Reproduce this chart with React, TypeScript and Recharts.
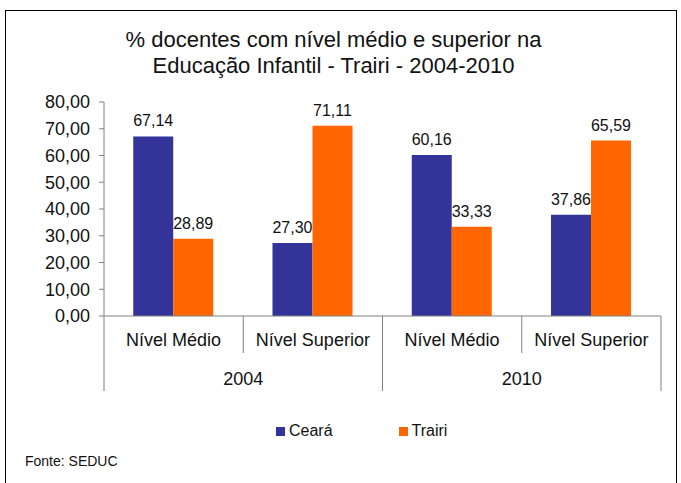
import { BarChart, Bar, XAxis, YAxis, LabelList } from "recharts";

const levels = ["Nível Médio", "Nível Superior", "Nível Médio", "Nível Superior"];
const years = ["2004", "2004", "2010", "2010"];
const ceara = [67.14, 27.3, 60.16, 37.86];
const trairi = [28.89, 71.11, 33.33, 65.59];
const yTicks = [0, 10, 20, 30, 40, 50, 60, 70, 80];

const series = [
    { key: "ceara", name: "Ceará", color: "#333399" },
    { key: "trairi", name: "Trairi", color: "#FF6600" },
];

const data = levels.map((level, i) => ({
    level,
    year: years[i],
    ceara: ceara[i],
    trairi: trairi[i],
}));

const fmt = (v: any) => Number(v).toFixed(2).replace(".", ",");

const FONT = "'Liberation Sans', Arial, sans-serif";

const LevelTick = (props: any) => {
    const { x, y, payload } = props;
    const i = payload.index;
    const half = payload.offset || 69.6;
    const left = x - half;
    const isGroupStart = i === 0 || years[i] !== years[i - 1];
    const isLast = i === levels.length - 1;
    return (
        <g>
            <line x1={left} x2={left} y1={y} y2={y + (isGroupStart ? 75 : 37)} stroke="#808080" />
            {isLast && <line x1={x + half} x2={x + half} y1={y} y2={y + 75} stroke="#808080" />}
            <text x={x} y={y + 30} textAnchor="middle" fontSize={18} fill="#111" fontFamily={FONT}>
                {levels[i]}
            </text>
            {isGroupStart && (
                <text x={x + half} y={y + 69} textAnchor="middle" fontSize={18} fill="#111" fontFamily={FONT}>
                    {years[i]}
                </text>
            )}
        </g>
    );
};

export default function App() {
    return (
        <div style={{ position: "absolute", left: 0, top: 0, width: 681, height: 483, overflow: "hidden", background: "#fff", fontFamily: FONT }}>
            <div style={{ position: "absolute", left: 5, top: 10, width: 670, height: 490, border: "1px solid #000" }} />
            <div style={{ position: "absolute", left: 0, top: 27, width: 667, textAlign: "center", fontSize: 22, lineHeight: "26px", color: "#111" }}>
                % docentes com nível médio e superior na
                <br />
                Educação Infantil - Trairi - 2004-2010
            </div>
            <div style={{ position: "absolute", left: 0, top: 0 }}>
                <BarChart
                    width={681}
                    height={483}
                    data={data}
                    margin={{ top: 102, right: 20, bottom: 87, left: 0 }}
                    barCategoryGap="21%"
                    barGap={0}
                >
                    <XAxis
                        dataKey="level"
                        height={80}
                        tickLine={false}
                        tickSize={0}
                        tickMargin={0}
                        axisLine={{ stroke: "#808080" }}
                        tick={<LevelTick />}
                        interval={0}
                    />
                    <YAxis
                        width={104}
                        domain={[0, 80]}
                        ticks={yTicks}
                        tickFormatter={fmt}
                        tickSize={5}
                        tickMargin={9}
                        axisLine={{ stroke: "#808080" }}
                        tickLine={{ stroke: "#808080" }}
                        tick={{ fontSize: 18, fill: "#111", fontFamily: FONT }}
                        interval={0}
                    />
                    {series.map((s) => (
                        <Bar key={s.key} dataKey={s.key} name={s.name} fill={s.color} isAnimationActive={false}>
                            <LabelList
                                dataKey={s.key}
                                position="top"
                                offset={10}
                                formatter={fmt}
                                style={{ fontSize: 16, fill: "#111", fontFamily: FONT }}
                            />
                        </Bar>
                    ))}
                </BarChart>
            </div>
            <div style={{ position: "absolute", top: 422, left: 276, display: "flex", alignItems: "center", fontSize: 16, color: "#111" }}>
                {series.map((s, i) => (
                    <div key={s.key} style={{ display: "flex", alignItems: "center", marginRight: i === 0 ? 66 : 0 }}>
                        <span style={{ display: "inline-block", width: 9, height: 9, background: s.color, marginRight: 4 }} />
                        <span>{s.name}</span>
                    </div>
                ))}
            </div>
            <div style={{ position: "absolute", top: 453, left: 25, fontSize: 14, color: "#111" }}>Fonte: SEDUC</div>
        </div>
    );
}
